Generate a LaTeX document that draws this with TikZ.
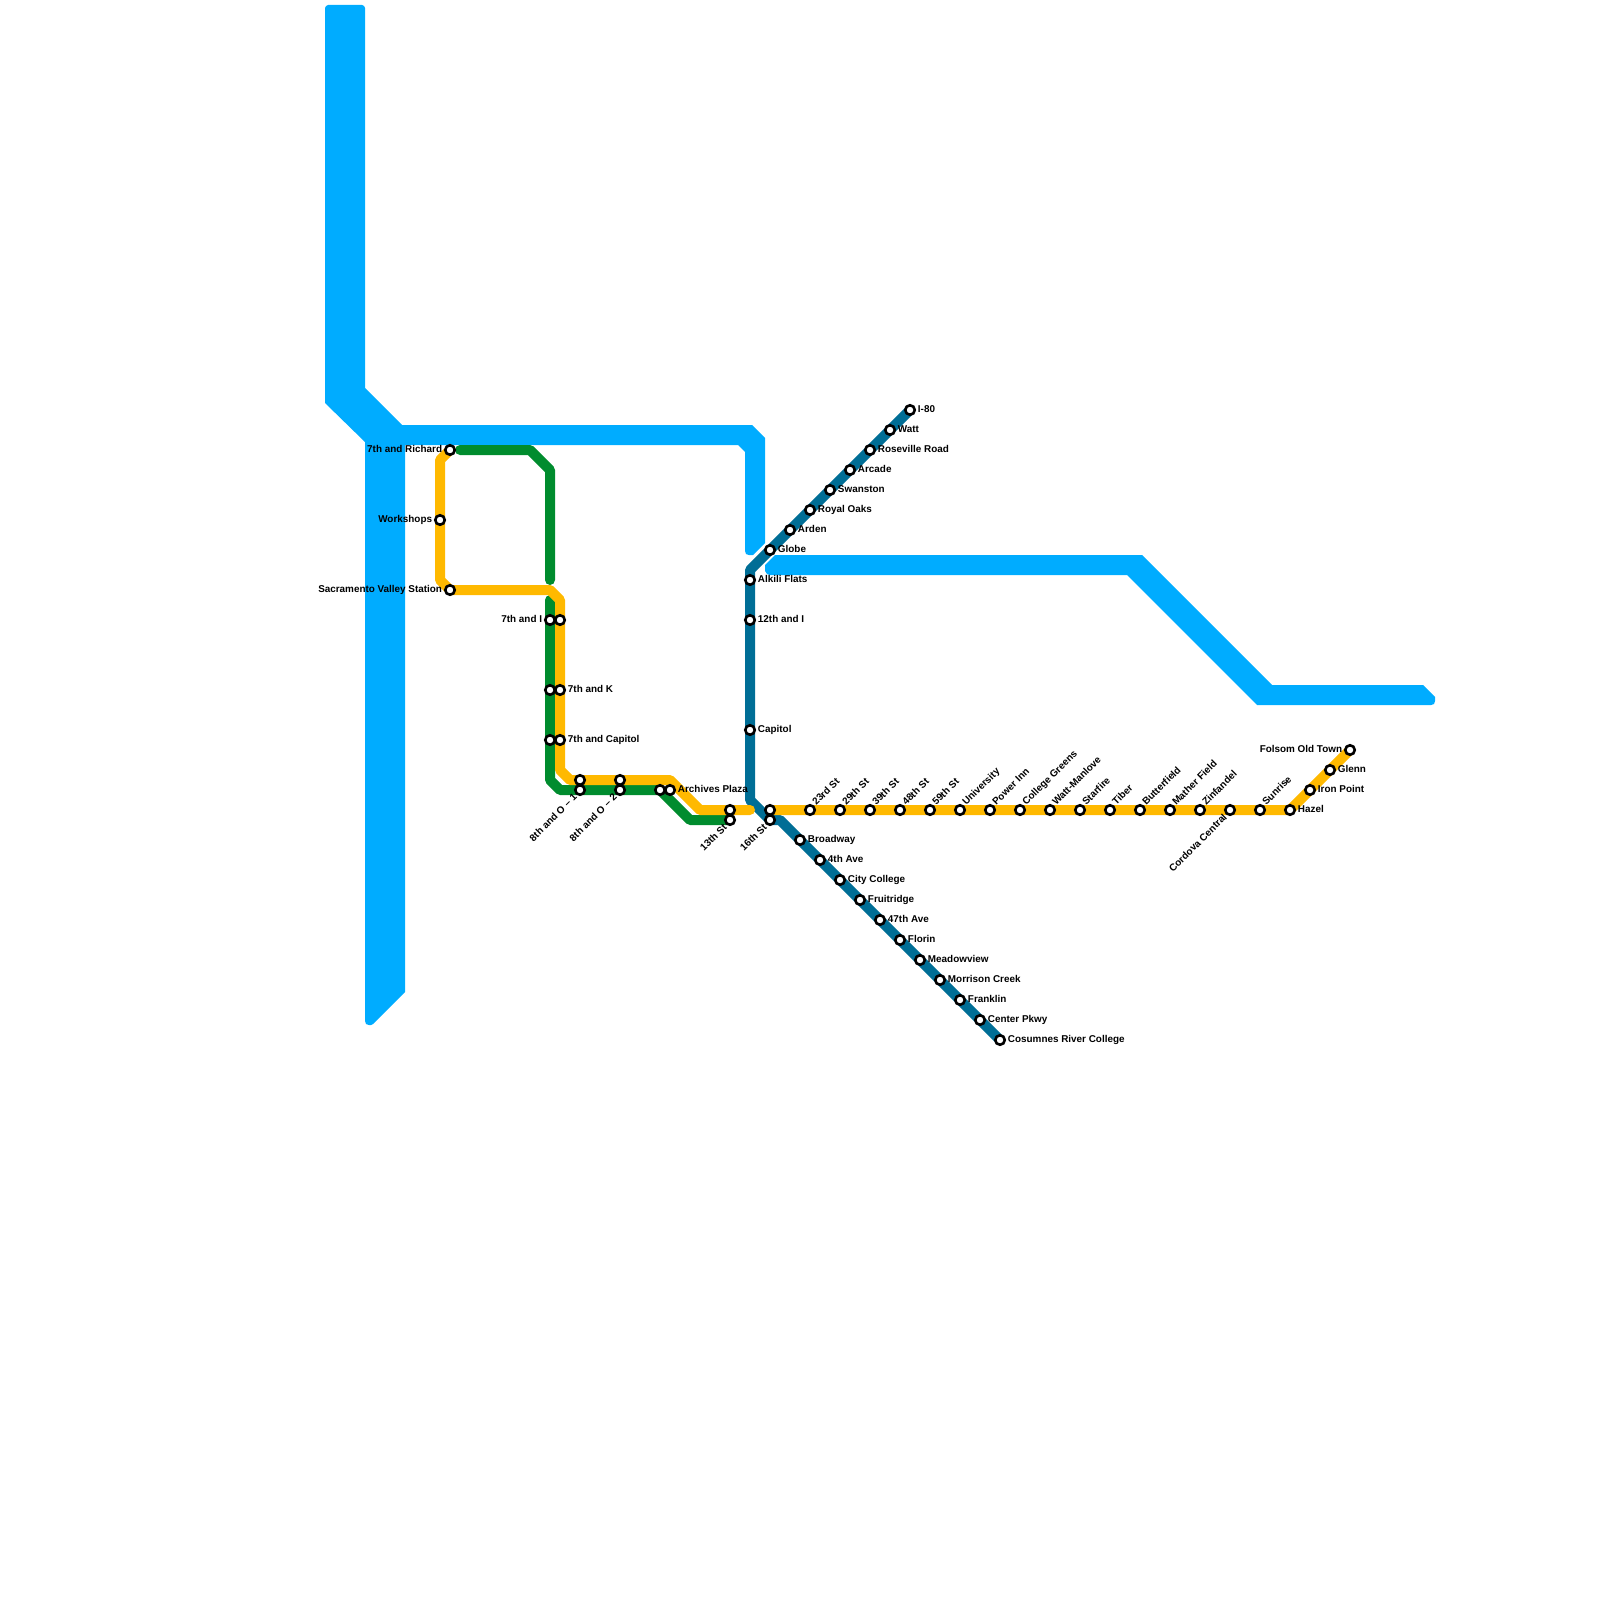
\documentclass[tikz,border=0pt]{standalone}
\usepackage{fontspec}
\setmainfont{Liberation Sans}
\usetikzlibrary{backgrounds}
\definecolor{rivblue}{HTML}{00ACFF}
\definecolor{goldln}{HTML}{FFB900}
\definecolor{greenln}{HTML}{008C2E}
\definecolor{tealln}{HTML}{006E96}

\begin{document}
\begin{tikzpicture}[
  x=1pt, y=-1pt, font=\fontsize{9.9}{11}\selectfont\bfseries,
  riv/.style={fill=rivblue},
  lin/.style={line width=10pt,line join=round,line cap=round},
  stn/.style={circle,draw=black,fill=white,line width=2.6pt,minimum size=9.5pt,inner sep=0pt},
  lr/.style={anchor=west,inner sep=0pt,text height=7.5pt,text depth=2pt},
  ll/.style={anchor=east,inner sep=0pt,text height=7.5pt,text depth=2pt},
  lu/.style={rotate=45,anchor=west,inner sep=0pt,text height=7.5pt,text depth=2pt},
  ld/.style={rotate=45,anchor=east,inner sep=0pt,text height=7.5pt,text depth=2pt},
  label distance=1.7pt]
\useasboundingbox (0,0) rectangle (1600,1600);
% west loop
\node[stn,label={[ll]left:7th and Richard}](sRichard) at (450,450){};
\node[stn,label={[ll]left:Workshops}](sWorkshops) at (440,520){};
\node[stn,label={[ll]left:Sacramento Valley Station}](sValley) at (450,590){};
\node[stn,label={[ll]left:7th and I}](sSevenIa) at (550,620){};
\node[stn](sSevenIb) at (560,620){};
\node[stn](sSevenKa) at (550,690){};
\node[stn,label={[lr]right:7th and K}](sSevenKb) at (560,690){};
\node[stn](sCapitolA) at (550,740){};
\node[stn,label={[lr]right:7th and Capitol}](sCapitolB) at (560,740){};
\node[stn](sEightOa) at (580,780){};
\node[stn,label={[ld]225:8th and O -- 1}](sEightOb) at (580,790){};
\node[stn](sEightTa) at (620,780){};
\node[stn,label={[ld]225:8th and O -- 2}](sEightTb) at (620,790){};
\node[stn](sArchA) at (660,790){};
\node[stn,label={[lr]right:Archives Plaza}](sArchB) at (670,790){};
\node[stn](sThirteenA) at (730,810){};
\node[stn,label={[ld]225:13th St}](sThirteenB) at (730,820){};
% north branch
\node[stn,label={[lr]right:I-80}](sIeighty) at (910,410){};
\node[stn,label={[lr]right:Watt}](sWatt) at (890,430){};
\node[stn,label={[lr]right:Roseville Road}](sRoseville) at (870,450){};
\node[stn,label={[lr]right:Arcade}](sArcade) at (850,470){};
\node[stn,label={[lr]right:Swanston}](sSwanston) at (830,490){};
\node[stn,label={[lr]right:Royal Oaks}](sRoyal) at (810,510){};
\node[stn,label={[lr]right:Arden}](sArden) at (790,530){};
\node[stn,label={[lr]right:Globe}](sGlobe) at (770,550){};
\node[stn,label={[lr]right:Alkili Flats}](sAlkili) at (750,580){};
\node[stn,label={[lr]right:12th and I}](sTwelfth) at (750,620){};
\node[stn,label={[lr]right:Capitol}](sCapitol) at (750,730){};
\node[stn](sSixteenA) at (770,810){};
\node[stn,label={[ld]225:16th St}](sSixteenB) at (770,820){};
% south branch
\node[stn,label={[lr]right:Broadway}](sBroadway) at (800,840){};
\node[stn,label={[lr]right:4th Ave}](sFourth) at (820,860){};
\node[stn,label={[lr]right:City College}](sCollege) at (840,880){};
\node[stn,label={[lr]right:Fruitridge}](sFruit) at (860,900){};
\node[stn,label={[lr]right:47th Ave}](sFortySeven) at (880,920){};
\node[stn,label={[lr]right:Florin}](sFlorin) at (900,940){};
\node[stn,label={[lr]right:Meadowview}](sMeadow) at (920,960){};
\node[stn,label={[lr]right:Morrison Creek}](sMorrison) at (940,980){};
\node[stn,label={[lr]right:Franklin}](sFranklin) at (960,1000){};
\node[stn,label={[lr]right:Center Pkwy}](sCenter) at (980,1020){};
\node[stn,label={[lr]right:Cosumnes River College}](sCosumnes) at (1000,1040){};
% east line
\node[stn,label={[lu]45:23rd St}](sTwentyThree) at (810,810){};
\node[stn,label={[lu]45:29th St}](sTwentyNine) at (840,810){};
\node[stn,label={[lu]45:39th St}](sThirtyNine) at (870,810){};
\node[stn,label={[lu]45:48th St}](sFortyEight) at (900,810){};
\node[stn,label={[lu]45:59th St}](sFiftyNine) at (930,810){};
\node[stn,label={[lu]45:University}](sUniversity) at (960,810){};
\node[stn,label={[lu]45:Power Inn}](sPower) at (990,810){};
\node[stn,label={[lu]45:College Greens}](sGreens) at (1020,810){};
\node[stn,label={[lu]45:Watt-Manlove}](sManlove) at (1050,810){};
\node[stn,label={[lu]45:Starfire}](sStarfire) at (1080,810){};
\node[stn,label={[lu]45:Tiber}](sTiber) at (1110,810){};
\node[stn,label={[lu]45:Butterfield}](sButter) at (1140,810){};
\node[stn,label={[lu]45:Mather Field}](sMather) at (1170,810){};
\node[stn,label={[lu]45:Zinfandel}](sZin) at (1200,810){};
\node[stn,label={[ld]225:Cordova Central}](sCordova) at (1230,810){};
\node[stn,label={[lu]45:Sunrise}](sSunrise) at (1260,810){};
\node[stn,label={[lr]right:Hazel}](sHazel) at (1290,810){};
\node[stn,label={[lr]right:Iron Point}](sIron) at (1310,790){};
\node[stn,label={[lr]right:Glenn}](sGlenn) at (1330,770){};
\node[stn,label={[ll]left:Folsom Old Town}](sFolsom) at (1350,750){};
% bends
\coordinate (g1) at (440,460);
\coordinate (g2) at (440,580);
\coordinate (g3) at (550,590);
\coordinate (g4) at (560,600);
\coordinate (g5) at (560,770);
\coordinate (g6) at (570,780);
\coordinate (g7) at (670,780);
\coordinate (g8) at (700,810);
\coordinate (g9) at (750,810);
\coordinate (e1) at (460,450);
\coordinate (e2) at (530,450);
\coordinate (e3) at (550,470);
\coordinate (e4) at (550,580);
\coordinate (e5) at (550,600);
\coordinate (e6) at (550,780);
\coordinate (e7) at (560,790);
\coordinate (e8) at (690,820);
\coordinate (t1) at (750,570);
\coordinate (t2) at (750,800);
\coordinate (t3) at (780,820);
\begin{scope}[on background layer]
\fill[riv](325,8)--(326,6)--(328,5)--(362,5)--(364,6)--(365,8)--(365,388)--(402,425)--(752,425)--(765,438)--(765,543)--(753,555)--(749,555)--(746,554)--(745,551)--(745,452)--(738,445)--(405,445)--(405,992)--(373,1024)--(371,1025)--(369,1025)--(366,1024)--(365,1021)--(365,442)--(325,403)--cycle;
\fill[riv](775,555)--(1142,555)--(1272,685)--(1423,685)--(1435,697)--(1435,701)--(1434,704)--(1431,705)--(1257,705)--(1127,575)--(770,575)--(767,574)--(765,571)--(765,565)--cycle;
\draw[lin,tealln](sIeighty.center)--(t1)--(t2)--(sSixteenB.center)--(t3)--(sCosumnes.center);
\draw[lin,greenln](e1)--(e2)--(e3)--(e4);
\draw[lin,greenln](e5)--(e6)--(e7)--(sArchA.center)--(e8)--(sThirteenB.center);
\draw[lin,goldln](sRichard.center)--(g1)--(g2)--(sValley.center)--(g3)--(g4)--(g5)--(g6)--(g7)--(g8)--(g9);
\draw[lin,goldln](sSixteenA.center)--(sHazel.center)--(sFolsom.center);
\end{scope}
\end{tikzpicture}
\end{document}
